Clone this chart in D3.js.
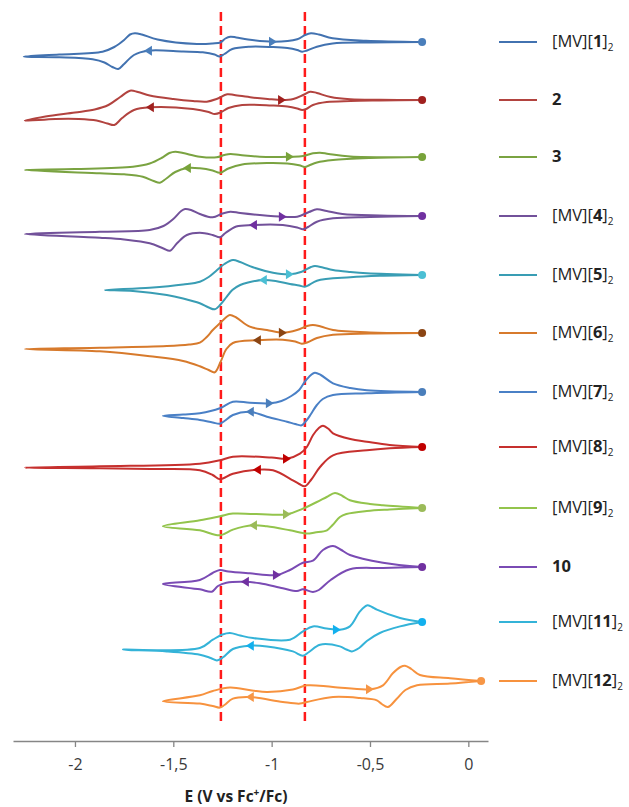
<!DOCTYPE html>
<html>
<head>
<meta charset="utf-8">
<title>CV stack</title>
<style>
    body { margin: 0; padding: 0; background: #fff; font-family: "Open Sans", "Liberation Sans", sans-serif; }
    .tick text { font-size: 16px; fill: #3a3a3a; font-family: "Open Sans", sans-serif; }
    .legend text { font-size: 16.5px; fill: #222; }
</style>
</head>
<body>
<div id="chart"></div>
<script src="https://d3js.org/d3.v7.min.js"></script>
<script>
// series names (number is bold, prefix/suffix plain)
var names = [
    ["[MV][", "1", "]"], ["", "2", ""], ["", "3", ""], ["[MV][", "4", "]"],
    ["[MV][", "5", "]"], ["[MV][", "6", "]"], ["[MV][", "7", "]"], ["[MV][", "8", "]"],
    ["[MV][", "9", "]"], ["", "10", ""], ["[MV][", "11", "]"], ["[MV][", "12", "]"]
];
var colors = ["#4272b0", "#b2433f", "#7aa341", "#72519a", "#399db4", "#d77a2c",
              "#4a80c6", "#c6302e", "#93c44c", "#7a4bb4", "#34b3d8", "#f7923e"];
var dotColors = ["#4a7ebb", "#a0201e", "#78a33a", "#7030a0", "#4bbfd4", "#8b4513",
                 "#4a7ebb", "#c00000", "#9bbb59", "#7030a0", "#12b0ee", "#f79646"];
// vertical offset of each trace (current units)
var offsets = [0, 58, 115, 174, 233, 291, 350, 405, 466, 525, 580, 639];
var xTicks = [-2, -1.5, -1, -0.5, 0];
var dashedE = [-1.258, -0.831];

// each loop: start point -> cathodic branch (left) -> vertex -> anodic branch (right) -> start point
// [E (V vs Fc+/Fc), I]
var cv1 = [[-0.235,0],[-0.5,-0.5],[-0.69,-1.5],[-0.77,-4.7],[-0.82,-8.5],[-0.845,-9.7],[-0.87,-8],[-0.92,-6],[-1.0,-5],[-1.11,-4.7],[-1.2,-7],[-1.24,-12],[-1.265,-14.5],[-1.29,-12.5],[-1.35,-10.3],[-1.45,-9.5],[-1.63,-8.7],[-1.7,-13],[-1.75,-22],[-1.78,-27],[-1.81,-25],[-1.85,-20.5],[-1.91,-17.3],[-2.08,-15.3],[-2.26,-14.7],
           [-2.08,-12.5],[-1.86,-9.7],[-1.8,-5],[-1.75,2],[-1.72,7.5],[-1.695,8.7],[-1.66,7.5],[-1.58,2.5],[-1.38,-2],[-1.3,-1.5],[-1.26,-0.5],[-1.235,3.5],[-1.21,5.3],[-1.18,4.6],[-1.12,2.5],[-0.99,0.3],[-0.87,2.7],[-0.83,7],[-0.8,8.7],[-0.76,7.5],[-0.69,3.7],[-0.52,1.3],[-0.235,0]];
var cv2 = [[-0.235,0],[-0.45,-0.5],[-0.6,-1],[-0.72,-2],[-0.79,-5],[-0.825,-9],[-0.845,-10],[-0.87,-8.5],[-0.92,-6.5],[-1.0,-5.5],[-1.15,-5],[-1.22,-8],[-1.26,-12.5],[-1.29,-14],[-1.32,-12],[-1.4,-9],[-1.62,-7.3],[-1.7,-10],[-1.76,-18],[-1.8,-25],[-1.835,-23.5],[-1.89,-20.5],[-1.98,-19],[-2.1,-19],[-2.255,-20.7],
           [-2.15,-16.5],[-2.0,-12.5],[-1.9,-9.5],[-1.83,-5],[-1.77,3],[-1.72,9.3],[-1.68,8],[-1.62,4.5],[-1.5,1],[-1.4,-1],[-1.33,-1.7],[-1.28,1],[-1.226,5.7],[-1.19,5],[-1.1,2.5],[-1.02,1],[-0.947,0],[-0.89,1],[-0.84,5],[-0.804,8.3],[-0.77,7],[-0.7,3],[-0.6,0.8],[-0.45,0.2],[-0.235,0]];
var cv3 = [[-0.235,0],[-0.5,-1],[-0.688,-3],[-0.77,-5.5],[-0.81,-8.5],[-0.831,-10],[-0.86,-8.3],[-0.92,-6.5],[-1.02,-6],[-1.15,-7.5],[-1.22,-11.5],[-1.263,-15.7],[-1.3,-13.5],[-1.365,-11.3],[-1.431,-11],[-1.49,-15],[-1.535,-21.5],[-1.568,-25.7],[-1.6,-24],[-1.655,-19.7],[-1.75,-17.3],[-1.873,-16.3],[-2.255,-13],
           [-2.0,-12],[-1.705,-9.7],[-1.62,-6.5],[-1.56,-1],[-1.52,4],[-1.49,5.3],[-1.45,4],[-1.365,0.3],[-1.28,-0.3],[-1.24,2],[-1.21,3],[-1.16,2],[-1.06,0.3],[-0.907,0.3],[-0.84,1],[-0.79,3.7],[-0.754,4.3],[-0.71,3],[-0.6,0.5],[-0.235,0]];
var cv4 = [[-0.235,0],[-0.5,-1],[-0.688,-2.3],[-0.77,-5.7],[-0.815,-11],[-0.841,-13.3],[-0.87,-11.5],[-0.943,-9],[-1.095,-9],[-1.18,-10.5],[-1.235,-17],[-1.263,-21.3],[-1.3,-19],[-1.365,-16.7],[-1.431,-19],[-1.48,-27],[-1.517,-34.7],[-1.55,-32.5],[-1.62,-27.3],[-1.75,-23.5],[-1.873,-21.7],[-2.255,-18],
           [-1.873,-15.7],[-1.62,-14],[-1.55,-10],[-1.5,-3],[-1.46,5],[-1.44,7],[-1.41,6],[-1.365,2],[-1.3,-1.3],[-1.25,2.5],[-1.21,4.3],[-1.16,3],[-1.06,1],[-0.94,-0.7],[-0.87,-0.7],[-0.81,4],[-0.77,6.7],[-0.72,5],[-0.64,2],[-0.45,0.5],[-0.235,0]];
var cv5 = [[-0.235,0],[-0.45,-0.8],[-0.6,-2.3],[-0.77,-5.7],[-0.81,-10],[-0.831,-11.7],[-0.86,-10.5],[-0.907,-9],[-0.98,-6],[-1.045,-5],[-1.12,-7.5],[-1.16,-10],[-1.2,-15],[-1.228,-21.7],[-1.26,-29.5],[-1.289,-34.3],[-1.32,-32.5],[-1.365,-28.3],[-1.45,-23.5],[-1.533,-20],[-1.705,-16],[-1.848,-15],
           [-1.62,-12.7],[-1.45,-9.5],[-1.365,-6.7],[-1.32,-2],[-1.28,4.5],[-1.24,11],[-1.197,15],[-1.16,13],[-1.095,7.7],[-0.993,2.3],[-0.907,0.7],[-0.847,3.3],[-0.8,8],[-0.78,9],[-0.74,7.5],[-0.688,5],[-0.6,3],[-0.516,1.7],[-0.235,0]];
var cv6 = [[-0.235,0],[-0.5,-0.5],[-0.688,-1.7],[-0.77,-5],[-0.82,-9.5],[-0.847,-10.7],[-0.88,-8.5],[-0.943,-6.7],[-1.075,-7.3],[-1.197,-10],[-1.23,-16],[-1.26,-29],[-1.289,-39.3],[-1.32,-37],[-1.365,-33.3],[-1.45,-28],[-1.619,-23.3],[-1.873,-18.3],[-2.255,-16],
           [-1.873,-14.7],[-1.533,-13],[-1.42,-11.5],[-1.365,-9.7],[-1.33,-4],[-1.299,3],[-1.263,9.7],[-1.23,16],[-1.212,18],[-1.18,15.5],[-1.111,6.3],[-1.024,3],[-0.943,0.3],[-0.871,3],[-0.82,7],[-0.79,8],[-0.75,6.5],[-0.688,3],[-0.5,0.5],[-0.235,0]];
var cv7 = [[-0.235,0],[-0.516,-1.3],[-0.688,-3],[-0.74,-7],[-0.77,-13],[-0.8,-22],[-0.821,-28],[-0.847,-33.3],[-0.88,-32],[-0.922,-29.7],[-1.024,-24.7],[-1.111,-19.7],[-1.197,-23],[-1.24,-29],[-1.263,-31.7],[-1.3,-30.5],[-1.365,-28],[-1.45,-26],[-1.553,-23.7],
           [-1.45,-22.5],[-1.365,-21.3],[-1.263,-16.3],[-1.197,-9.7],[-1.111,-10.7],[-1.009,-11.3],[-0.95,-9],[-0.9,-4],[-0.86,2],[-0.831,10.3],[-0.8,17],[-0.78,19.3],[-0.75,17],[-0.688,8.7],[-0.6,4],[-0.516,1.7],[-0.235,0]];
var cv8 = [[-0.235,0],[-0.4,-1.3],[-0.516,-3.3],[-0.688,-8.3],[-0.754,-20],[-0.8,-33],[-0.831,-39.3],[-0.86,-37],[-0.892,-33.3],[-0.993,-23.3],[-1.075,-22.7],[-1.197,-26.7],[-1.263,-32.3],[-1.3,-28],[-1.365,-23.3],[-1.6,-22],[-1.873,-21.3],[-2.255,-20.7],
           [-1.873,-19.3],[-1.365,-16.7],[-1.263,-13.3],[-1.197,-9.7],[-1.0,-10.5],[-0.922,-11.7],[-0.856,-6.7],[-0.821,0],[-0.79,11.7],[-0.76,19],[-0.739,21.3],[-0.71,18],[-0.688,13.7],[-0.6,8],[-0.516,5.3],[-0.4,2],[-0.235,0]];
var cv9 = [[-0.235,0],[-0.4,-1.5],[-0.516,-3],[-0.62,-6],[-0.653,-9],[-0.69,-17],[-0.719,-22.3],[-0.78,-24.5],[-0.821,-25.6],[-0.907,-22.3],[-1.024,-18.3],[-1.095,-17.3],[-1.197,-21.6],[-1.263,-27.3],[-1.365,-22.3],[-1.553,-18.3],
           [-1.365,-12.3],[-1.263,-8.3],[-1.197,-5.6],[-0.922,-6.3],[-0.841,-0.6],[-0.77,6],[-0.72,11],[-0.678,15],[-0.64,12],[-0.602,7.7],[-0.5,4],[-0.434,2.7],[-0.235,0]];
var cv10 = [[-0.235,0],[-0.434,-1],[-0.602,-2.3],[-0.7,-13],[-0.76,-23],[-0.79,-25],[-0.841,-22.3],[-0.871,-24],[-0.943,-21.3],[-1.06,-16.3],[-1.136,-14.7],[-1.23,-15.7],[-1.273,-19],[-1.304,-24.7],[-1.365,-22.3],[-1.553,-17],
            [-1.365,-13],[-1.3,-6],[-1.263,-3],[-1.22,-4.5],[-1.111,-6.3],[-0.973,-8],[-0.907,-3],[-0.841,4.3],[-0.79,6.3],[-0.739,17],[-0.688,21],[-0.65,17.5],[-0.602,12],[-0.434,4.3],[-0.235,0]];
var cv11 = [[-0.235,0],[-0.347,-4.4],[-0.45,-11],[-0.516,-19],[-0.555,-26],[-0.592,-29.4],[-0.62,-27.5],[-0.653,-24.4],[-0.754,-22.7],[-0.81,-30],[-0.841,-33.7],[-0.892,-29.4],[-1.024,-24.4],[-1.111,-23.7],[-1.197,-27],[-1.245,-35],[-1.278,-38.4],[-1.31,-36],[-1.365,-32.7],[-1.533,-29.4],[-1.756,-27.7],
            [-1.365,-26],[-1.299,-17.7],[-1.25,-12.5],[-1.212,-11],[-1.16,-13.5],[-1.095,-16],[-0.907,-17.7],[-0.841,-9.4],[-0.79,-4.4],[-0.72,-6.5],[-0.653,-7.7],[-0.602,-4.4],[-0.551,10.6],[-0.516,16.6],[-0.49,15],[-0.465,12.3],[-0.347,4],[-0.235,0]];
var cv12 = [[0.065,0],[-0.093,-2.6],[-0.261,-4.3],[-0.32,-9],[-0.365,-18],[-0.409,-26],[-0.44,-23],[-0.465,-19.3],[-0.55,-17],[-0.688,-16],[-0.821,-21],[-0.856,-22.6],[-0.943,-21],[-1.111,-16],[-1.197,-17.6],[-1.24,-24],[-1.263,-26.6],[-1.3,-25],[-1.365,-22.6],[-1.553,-20.3],
            [-1.365,-14.3],[-1.299,-10],[-1.212,-6.6],[-1.1,-9.5],[-1.024,-11],[-0.892,-8.6],[-0.821,-4.3],[-0.688,-6],[-0.5,-8.3],[-0.434,-4.3],[-0.384,7.7],[-0.345,14],[-0.322,15.3],[-0.29,12],[-0.246,6],[-0.093,2.7],[0.065,0]];
var curves = [cv1, cv2, cv3, cv4, cv5, cv6, cv7, cv8, cv9, cv10, cv11, cv12];

// scan direction arrows: [E, I] on anodic (pointing right) and cathodic (pointing left) branch
var arrowsRight = [[-0.993,0.3],[-0.947,0],[-0.907,0.3],[-0.943,-0.7],[-0.907,0.7],[-0.943,0.3],
                   [-1.009,-11.3],[-0.922,-11.7],[-0.922,-6.3],[-0.973,-8],[-0.668,-7.7],[-0.5,-8.3]];
var arrowsLeft = [[-1.629,-8.7],[-1.619,-7.3],[-1.431,-11],[-1.095,-9],[-1.045,-5],[-1.075,-7.3],
                  [-1.111,-19.7],[-1.075,-22.7],[-1.095,-17.3],[-1.136,-14.7],[-1.111,-23.7],[-1.111,-16]];

var width = 629, height = 807;

var svg = d3.select("#chart").append("svg")
    .attr("width", width)
    .attr("height", height);

var x = d3.scaleLinear().domain([-2.315, 0.1]).range([13, 488]);
var y = d3.scaleLinear().domain([0, -639]).range([42, 681]);

// red reference lines
svg.append("g")
    .selectAll("line")
    .data(dashedE)
    .enter()
    .append("line")
    .attr("x1", d => x(d)).attr("x2", d => x(d))
    .attr("y1", 12).attr("y2", 722)
    .attr("stroke", "#ff1a1a")
    .attr("stroke-width", 2.5)
    .attr("stroke-dasharray", "9,5");

var line = d3.line()
    .x(d => x(d[0]))
    .y(d => y(d[1]))
    .curve(d3.curveCatmullRom.alpha(0.5));

curves.forEach(function (c, i) {
    var g = svg.append("g");
    var off = offsets[i];
    g.append("path")
        .datum(c.map(p => [p[0], p[1] - off]))
        .attr("d", line)
        .attr("fill", "none")
        .attr("stroke", colors[i])
        .attr("stroke-width", 2)
        .attr("stroke-linejoin", "round");

    // start point
    g.append("circle")
        .attr("cx", x(c[0][0]))
        .attr("cy", y(c[0][1] - off))
        .attr("r", 4)
        .attr("fill", dotColors[i]);

    // arrows
    var ar = arrowsRight[i], al = arrowsLeft[i];
    g.append("path")
        .attr("transform", "translate(" + x(ar[0]) + "," + y(ar[1] - off) + ")")
        .attr("d", "M4,0 L-4,-5 L-4,5 Z")
        .attr("fill", dotColors[i]);
    g.append("path")
        .attr("transform", "translate(" + x(al[0]) + "," + y(al[1] - off) + ")")
        .attr("d", "M-4,0 L4,-5 L4,5 Z")
        .attr("fill", dotColors[i]);
});

// x axis
var axis = d3.axisBottom(x)
    .tickValues(xTicks)
    .tickSizeInner(6)
    .tickSizeOuter(0)
    .tickPadding(12)
    .tickFormat(d => String(d).replace(".", ","));

var ax = svg.append("g")
    .attr("transform", "translate(0,741)")
    .call(axis);
ax.select(".domain").attr("stroke", "#868686").attr("stroke-width", 1.3);
ax.selectAll(".tick line").attr("stroke", "#868686").attr("stroke-width", 1.3);

var title = svg.append("text")
    .attr("x", 236)
    .attr("y", 802)
    .attr("text-anchor", "middle")
    .attr("font-size", 15.5)
    .attr("font-weight", "bold")
    .attr("fill", "#222");
title.append("tspan").text("E (V vs Fc");
title.append("tspan").attr("dy", -6).attr("font-size", 10).text("+");
title.append("tspan").attr("dy", 6).text("/Fc)");

// legend
var legend = svg.append("g").attr("class", "legend");
names.forEach(function (n, i) {
    var yy = y(-offsets[i]);
    legend.append("line")
        .attr("x1", 499).attr("x2", 537)
        .attr("y1", yy).attr("y2", yy)
        .attr("stroke", colors[i])
        .attr("stroke-width", 2);
    var t = legend.append("text")
        .attr("x", 552)
        .attr("y", yy + 5);
    t.append("tspan").text(n[0]);
    t.append("tspan").attr("font-weight", "bold").text(n[1]);
    if (n[2]) {
        t.append("tspan").text(n[2]);
        t.append("tspan").attr("font-size", 10).attr("dy", 4).text("2");
    }
});
</script>
</body>
</html>
